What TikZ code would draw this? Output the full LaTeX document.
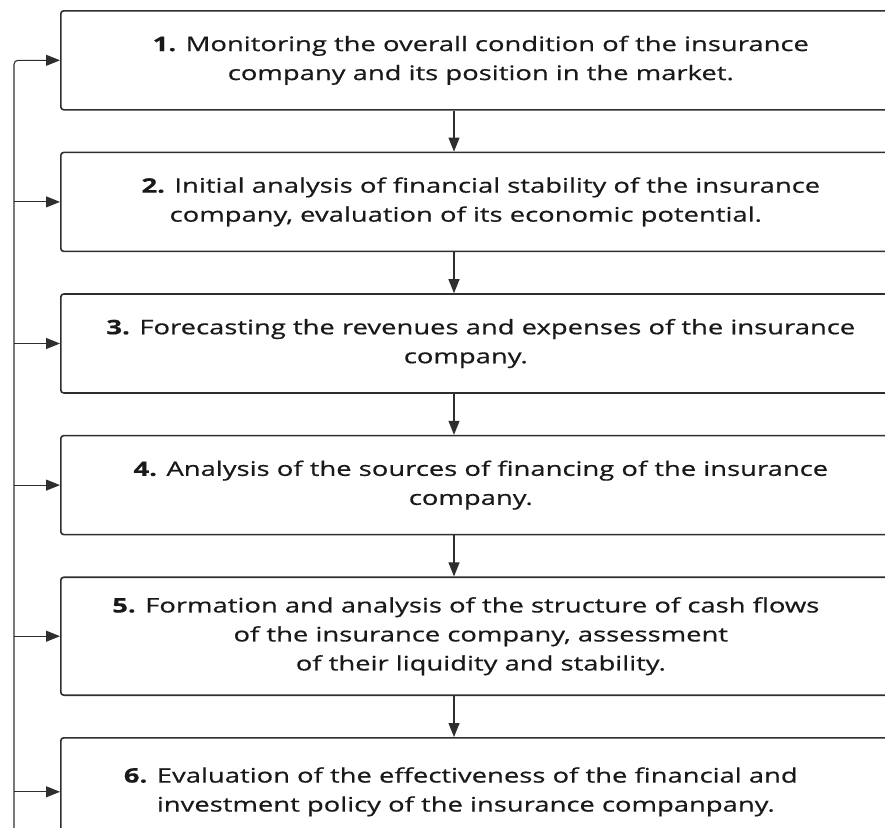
\documentclass[tikz,border=0pt]{standalone}
\usepackage{fontspec}
\setmainfont{Open Sans}[FakeStretch=1.37,FakeBold=0.6]
\usetikzlibrary{positioning,arrows.meta}

\definecolor{trait}{HTML}{2E2E2E}
\tikzset{etape/.style={draw=trait,line width=1.6pt,rounded corners=3pt,
    minimum width=#1,minimum height=99pt,align=center,
    font=\fontsize{20}{29}\selectfont,text=black!90},etape/.default={840pt},
  fleche/.style={draw=trait,line width=1.1pt,-{Triangle[length=14pt,width=11pt]}}}

\begin{document}
\begin{tikzpicture}[x=1pt,y=-1pt,node distance=41pt]
\useasboundingbox (0,0) rectangle (885,827);
\clip (0,0) rectangle (885,827);
\node [etape,anchor=north west] (e1) at (60,10)
  {\textbf{1.} Monitoring the overall condition of the insurance\\
   company and its position in the market.};
\node [etape,below=of e1] (e2)
  {\textbf{2.} Initial analysis of financial stability of the insurance\\
   company, evaluation of its economic potential.\hspace*{30pt}};
\node [etape,below=of e2] (e3)
  {\textbf{3.} Forecasting the revenues and expenses of the insurance\\
   company.\hspace*{30pt}};
\node [etape,below=of e3] (e4)
  {\textbf{4.} Analysis of the sources of financing of the insurance\\
   company.\hspace*{20pt}};
\node [etape,below=of e4,minimum height=118pt,node distance=39pt] (e5)
  {\textbf{5.} Formation and analysis of the structure of cash flows\hspace*{30pt}\\
   of the insurance company, assessment\\
   of their liquidity and stability.};
\node [etape,below=of e5,minimum height=108pt,node distance=40pt] (e6)
  {\textbf{6.} Evaluation of the effectiveness of the financial and\hspace*{40pt}\\
   investment policy of the insurance companpany.\hspace*{30pt}};
% fleches entre les etapes
\coordinate (axe) at (454,0);
\foreach \a/\b in {e1/e2,e2/e3,e3/e4,e4/e5,e5/e6}
  \draw [fleche] (\a.south -| axe) -- (\b.north -| axe);
% retour a gauche
\coordinate (bas) at (14,840);
\draw [fleche,rounded corners=4pt] (bas) |- (e1.west);
\foreach \b in {e2,e3,e4,e5,e6}
  \draw [fleche] (\b.west -| bas) -- (\b.west);
\end{tikzpicture}
\end{document}
